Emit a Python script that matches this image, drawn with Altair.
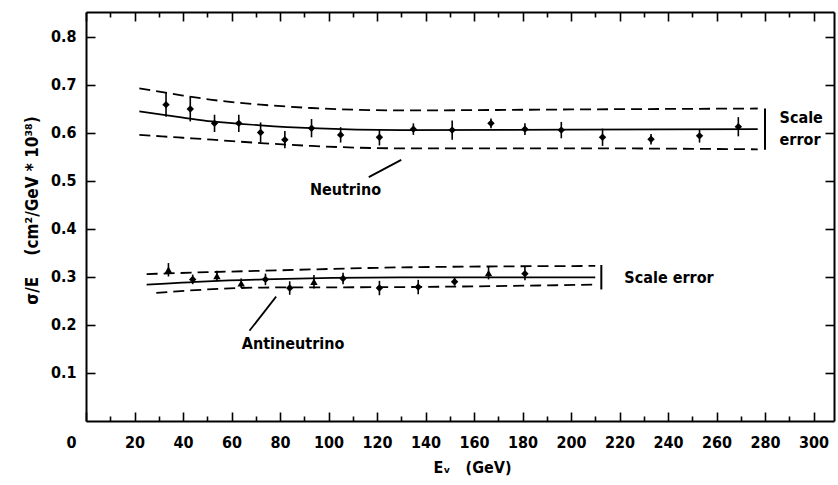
import altair as alt
import pandas as pd

FONT = "DejaVu Sans Condensed"
WEIGHT = "bold"
NB = "\u00a0"
ZW = "\u200b"

# ---------------- data ----------------
# Neutrino cross sections sigma/E
nu_E = [33, 43, 53, 63, 72, 82, 93, 105, 121, 135, 151, 167, 181, 196, 213, 233, 253, 269]
nu_sig = [0.659, 0.650, 0.620, 0.620, 0.601, 0.586, 0.610, 0.596, 0.591, 0.608, 0.606,
          0.620, 0.608, 0.606, 0.591, 0.587, 0.594, 0.613]
nu_err = [0.025, 0.026, 0.018, 0.018, 0.021, 0.018, 0.019, 0.016, 0.017, 0.012, 0.020,
          0.010, 0.012, 0.017, 0.018, 0.011, 0.014, 0.020]

# Antineutrino cross sections sigma/E
anti_E = [34, 44, 54, 64, 74, 84, 94, 106, 121, 137, 152, 166, 181]
anti_sig = [0.315, 0.295, 0.302, 0.287, 0.295, 0.277, 0.290, 0.297, 0.277, 0.279, 0.290, 0.308, 0.307]
anti_err = [0.014, 0.010, 0.011, 0.010, 0.012, 0.014, 0.014, 0.012, 0.015, 0.015, 0.008, 0.013, 0.014]
anti_kind = ["tri", "dot", "tri", "tri", "dot", "dot", "tri", "dot", "dot", "dot", "dot", "tri", "dot"]

# Fitted curves and scale-error envelopes
nu_line_E = [22, 40, 52, 72, 93, 130, 200, 277]
nu_fit = [0.645, 0.632, 0.624, 0.616, 0.610, 0.606, 0.607, 0.608]
nu_up = [0.693, 0.678, 0.669, 0.659, 0.652, 0.647, 0.649, 0.651]
nu_lo = [0.596, 0.590, 0.586, 0.579, 0.573, 0.568, 0.568, 0.566]

anti_line_E = [25, 50, 73, 130, 210]
anti_lo_E = [29, 50, 73, 130, 210]
anti_fit = [0.284, 0.291, 0.295, 0.299, 0.299]
anti_up = [0.306, 0.310, 0.313, 0.320, 0.323]
anti_lo = [0.267, 0.274, 0.278, 0.279, 0.284]

# Scale-error bars
scale_E = [280, 212.5]
scale_lo = [0.565, 0.274]
scale_hi = [0.651, 0.325]

# Annotations
cen_text = ["Neutrino", "Antineutrino"]
cen_E = [107, 85.4]
cen_y = [0.481, 0.160]
left_text = ["Scale", "error", "Scale error"]
left_E = [286, 286, 222]
left_y = [0.631, 0.585, 0.298]
ptr_E = [130, 67.4]
ptr_y = [0.544, 0.188]
ptr_E2 = [116.6, 78.4]
ptr_y2 = [0.508, 0.259]

# Axis ticks
x_major = list(range(0, 301, 20))
x_minor = list(range(10, 301, 20))
y_ticks = [0.1, 0.2, 0.3, 0.4, 0.5, 0.6, 0.7, 0.8]
X_MAX = 308.45
Y_MAX = 0.852

# ---------------- tables ----------------
nu = pd.DataFrame({"E": nu_E, "s": nu_sig, "err": nu_err})
nu["lo"] = nu["s"] - nu["err"]
nu["hi"] = nu["s"] + nu["err"]
anti = pd.DataFrame({"E": anti_E, "s": anti_sig, "err": anti_err, "kind": anti_kind})
anti["lo"] = anti["s"] - anti["err"]
anti["hi"] = anti["s"] + anti["err"]
pts = pd.concat([nu.assign(kind="dot"), anti], ignore_index=True)

solid = pd.concat([
    pd.DataFrame({"E": nu_line_E, "s": nu_fit, "series": "nu"}),
    pd.DataFrame({"E": anti_line_E, "s": anti_fit, "series": "anti"}),
], ignore_index=True)
dashed = pd.concat([
    pd.DataFrame({"E": nu_line_E, "s": nu_up, "series": "nu_up"}),
    pd.DataFrame({"E": nu_line_E, "s": nu_lo, "series": "nu_lo"}),
    pd.DataFrame({"E": anti_line_E, "s": anti_up, "series": "anti_up"}),
    pd.DataFrame({"E": anti_lo_E, "s": anti_lo, "series": "anti_lo"}),
], ignore_index=True)
scale_df = pd.DataFrame({"E": scale_E, "lo": scale_lo, "hi": scale_hi})
cen_df = pd.DataFrame({"E": cen_E, "s": cen_y, "t": cen_text})
left_df = pd.DataFrame({"E": left_E, "s": left_y, "t": left_text})
ptr_df = pd.DataFrame({"E": ptr_E, "s": ptr_y, "E2": ptr_E2, "s2": ptr_y2})

xs = alt.Scale(domain=[0, X_MAX], nice=False, zero=False)
ys = alt.Scale(domain=[0, Y_MAX], nice=False, zero=False)


def tick(n):
    return alt.ExprRef(expr=str(-n))


ax_bottom = alt.Axis(
    orient="bottom", values=x_major, tickSize=tick(9), labelPadding=22,
    labelExpr="datum.value === 0 ? '0" + NB * 2 + ZW + "' : datum.label",
    labelAlign={"condition": {"test": "datum.value === 0", "value": "right"}, "value": "center"},
    labelFlush=False, labelOverlap=False,
    title="E\u1d65" + NB * 3 + "(GeV)", titleX=386, titleY=46,
    titleAlign="center", titleBaseline="middle",
)
ax_left = alt.Axis(
    orient="left", values=y_ticks, format=".1f", tickSize=tick(9), labelPadding=19,
    labelOverlap=False, labelFlush=False,
    title="σ/E" + NB * 4 + "(cm²/GeV * 10³⁸)", titleAngle=270, titleX=-54, titleY=198,
    titleAlign="center", titleBaseline="middle", titleFontSize=17,
)
ax_top = alt.Axis(orient="top", values=x_major, tickSize=tick(9), labels=False, title=None)
ax_right = alt.Axis(orient="right", values=y_ticks, tickSize=tick(9), labels=False, title=None)
ax_bottom_minor = alt.Axis(orient="bottom", values=x_minor, tickSize=tick(5), labels=False,
                           domain=False, title=None)
ax_top_minor = alt.Axis(orient="top", values=x_minor, tickSize=tick(5), labels=False,
                        domain=False, title=None)

errbars = alt.Chart(pts).mark_rule(color="black", strokeWidth=1.6).encode(
    x=alt.X("E:Q", scale=xs, axis=ax_bottom),
    y=alt.Y("lo:Q", scale=ys, axis=ax_left),
    y2="hi:Q",
)
points = alt.Chart(pts).mark_point(filled=True, color="black", size=55, opacity=1).encode(
    x=alt.X("E:Q", scale=xs, axis=ax_top),
    y=alt.Y("s:Q", scale=ys, axis=ax_right),
    shape=alt.Shape("kind:N", scale=alt.Scale(domain=["dot", "tri"], range=["diamond", "triangle-up"]),
                    legend=None),
)
solid_lines = alt.Chart(solid).mark_line(color="black", strokeWidth=1.7, interpolate="monotone").encode(
    x=alt.X("E:Q", scale=xs, axis=ax_bottom_minor),
    y=alt.Y("s:Q", scale=ys, axis=None),
    detail="series:N",
)
dashed_lines = alt.Chart(dashed).mark_line(color="black", strokeWidth=1.8, strokeDash=[11, 6],
                                           interpolate="monotone").encode(
    x=alt.X("E:Q", scale=xs, axis=ax_top_minor),
    y=alt.Y("s:Q", scale=ys, axis=None),
    detail="series:N",
)
scale_bars = alt.Chart(scale_df).mark_rule(color="black", strokeWidth=2).encode(
    x=alt.X("E:Q", scale=xs, axis=None),
    y=alt.Y("lo:Q", scale=ys, axis=None),
    y2="hi:Q",
)
pointers = alt.Chart(ptr_df).mark_rule(color="black", strokeWidth=1.8).encode(
    x=alt.X("E:Q", scale=xs, axis=None),
    y=alt.Y("s:Q", scale=ys, axis=None),
    x2="E2:Q",
    y2="s2:Q",
)
cen_labels = alt.Chart(cen_df).mark_text(font=FONT, fontSize=16, fontWeight=WEIGHT, align="center",
                                         baseline="middle", color="black").encode(
    x=alt.X("E:Q", scale=xs, axis=None),
    y=alt.Y("s:Q", scale=ys, axis=None),
    text="t:N",
)
left_labels = alt.Chart(left_df).mark_text(font=FONT, fontSize=16, fontWeight=WEIGHT, align="left",
                                           baseline="middle", color="black").encode(
    x=alt.X("E:Q", scale=xs, axis=None),
    y=alt.Y("s:Q", scale=ys, axis=None),
    text="t:N",
)

chart = alt.layer(
    errbars, points, solid_lines, dashed_lines, scale_bars, pointers, cen_labels, left_labels
).resolve_axis(x="independent", y="independent").properties(
    width=748, height=409,
    padding={"left": 86, "top": 12, "right": 4, "bottom": 64},
    autosize=alt.AutoSizeParams(type="none"),
    background="white",
).configure_view(stroke=None).configure_axis(
    grid=False, domainColor="black", domainWidth=2, tickColor="black", tickWidth=1.6,
    labelColor="black", labelFont=FONT, labelFontSize=16, labelFontWeight=WEIGHT,
    titleColor="black", titleFont=FONT, titleFontSize=16, titleFontWeight=WEIGHT,
)

chart.save("out.html", embed_options={"renderer": "svg", "actions": False})
